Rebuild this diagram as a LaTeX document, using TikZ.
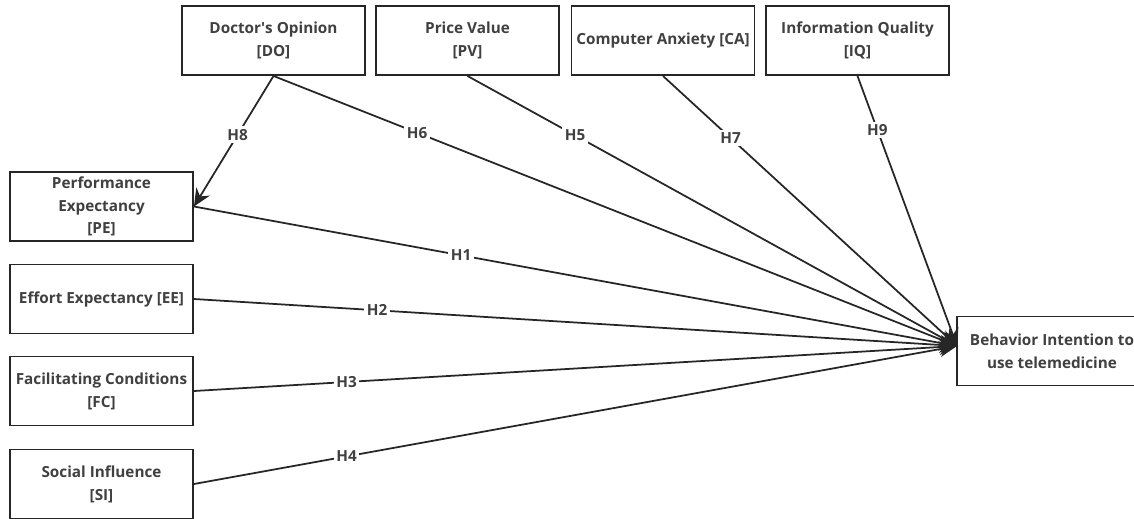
\documentclass[tikz,border=0pt]{standalone}
\usepackage{fontspec}
\setmainfont{Open Sans}
\usetikzlibrary{arrows.meta}
\tikzset{
  construct/.style={draw=black!85, line width=1.1pt, fill=white, minimum width=3.66cm, minimum height=1.38cm, align=center, text=black!75, font=\fontsize{8.7}{13}\selectfont\bfseries, inner sep=1pt},
  hyp/.style={draw=black!85, line width=1pt, -{Stealth[length=10pt,width=9pt]}},
  hlabel/.style={fill=white, text=black!75, font=\fontsize{8.7}{10}\selectfont\bfseries, inner sep=1.5pt}
}

\begin{document}
\begin{tikzpicture}[x=0.02cm,y=-0.02cm]
\useasboundingbox (0,0) rectangle (1134,518);

\node[construct] (DO) at (273.5,40.5) {Doctor\textquotesingle s Opinion\\{[DO]}};
\node[construct] (PV) at (467.5,40.5) {Price Value\\{[PV]}};
\node[construct] (CA) at (663,40.5) {Computer Anxiety [CA]};
\node[construct] (IQ) at (857.5,40.5) {Information Quality\\{[IQ]}};

\node[construct] (PE) at (101.5,206.5) {Performance\\Expectancy\\{[PE]}};
\node[construct] (EE) at (101.5,299) {Effort Expectancy [EE]};
\node[construct] (FC) at (101.5,391) {Facilitating Conditions\\{[FC]}};
\node[construct] (SI) at (101.5,484) {Social Influence\\{[SI]}};

\node[construct, minimum width=3.8cm] (BI) at (1052,351) {Behavior Intention to\\use telemedicine};
\coordinate (bi) at (957,346);

\draw[hyp] (DO.south) -- node[hlabel,pos=.45] {H8} (PE.east);
\draw[hyp] (DO.south) -- node[hlabel,pos=.21] {H6} (bi);
\draw[hyp] (PV.south) -- node[hlabel,pos=.22] {H5} (bi);
\draw[hyp] (CA.south) -- node[hlabel,pos=.23] {H7} (bi);
\draw[hyp] (IQ.south) -- node[hlabel,pos=.2] {H9} (bi);
\draw[hyp] (PE.east) -- node[hlabel,pos=.35] {H1} (bi);
\draw[hyp] (EE.east) -- node[hlabel,pos=.24] {H2} (bi);
\draw[hyp] (FC.east) -- node[hlabel,pos=.2] {H3} (bi);
\draw[hyp] (SI.east) -- node[hlabel,pos=.2] {H4} (bi);

\end{tikzpicture}
\end{document}
